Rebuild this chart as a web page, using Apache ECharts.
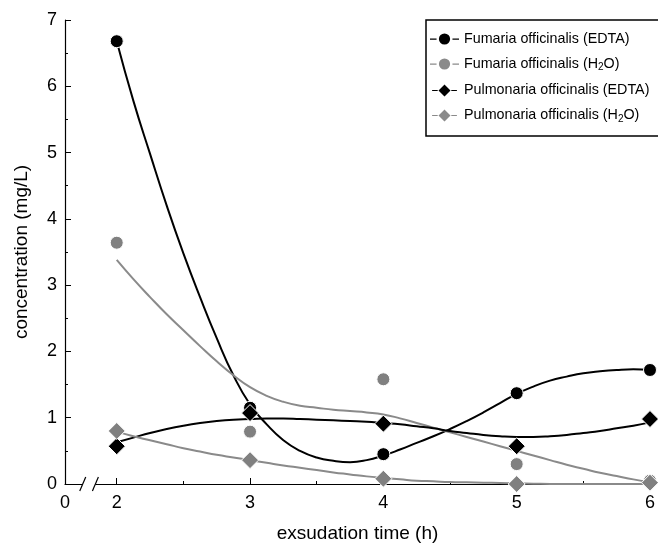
<!DOCTYPE html>
<html>
<head>
<meta charset="utf-8">
<script src="https://cdn.jsdelivr.net/npm/echarts@6/dist/echarts.min.js"></script>
<style>
  html, body { margin: 0; padding: 0; background: #fff; }
  #chart { width: 658px; height: 548px; }
</style>
</head>
<body>
<div id="chart"></div>
<script>
// measured points
var timeH = [2, 3, 4, 5, 6];
var fumEdta = [6.68, 1.15, 0.45, 1.37, 1.72];
var fumH2o = [3.64, 0.79, 1.58, 0.30, 0.05];
var pulEdta = [0.57, 1.07, 0.91, 0.57, 0.98];
var pulH2o = [0.80, 0.36, 0.08, 0.00, 0.02];

// fitted curves, every 0.125 h
var fitX = [2, 2.125, 2.25, 2.375, 2.5, 2.625, 2.75, 2.875, 3, 3.125, 3.25, 3.375, 3.5, 3.625, 3.75, 3.875,
            4, 4.125, 4.25, 4.375, 4.5, 4.625, 4.75, 4.875, 5, 5.125, 5.25, 5.375, 5.5, 5.625, 5.75, 5.875, 6];
var fumEdtaFit = [6.68, 5.78, 4.98, 4.20, 3.48, 2.82, 2.20, 1.64, 1.20, 0.90, 0.66, 0.50, 0.40, 0.35, 0.33, 0.36,
                  0.43, 0.52, 0.62, 0.72, 0.83, 0.95, 1.08, 1.22, 1.36, 1.47, 1.56, 1.62, 1.67, 1.70, 1.72, 1.73, 1.72];
var fumH2oFit = [3.38, 3.09, 2.82, 2.56, 2.32, 2.08, 1.85, 1.64, 1.46, 1.33, 1.24, 1.18, 1.15, 1.12, 1.10, 1.08,
                 1.05, 0.99, 0.92, 0.85, 0.78, 0.71, 0.64, 0.57, 0.50, 0.43, 0.36, 0.29, 0.23, 0.17, 0.12, 0.07, 0.03];
var pulEdtaFit = [0.63, 0.70, 0.77, 0.83, 0.88, 0.92, 0.95, 0.97, 0.98, 0.99, 0.99, 0.98, 0.97, 0.96, 0.95, 0.94,
                  0.92, 0.90, 0.87, 0.84, 0.80, 0.77, 0.74, 0.72, 0.71, 0.71, 0.72, 0.74, 0.77, 0.80, 0.84, 0.88, 0.93];
var pulH2oFit = [0.79, 0.72, 0.66, 0.60, 0.54, 0.49, 0.44, 0.40, 0.36, 0.32, 0.28, 0.245, 0.21, 0.175, 0.145, 0.115,
                 0.09, 0.07, 0.05, 0.04, 0.03, 0.025, 0.02, 0.015, 0.01, 0.005, 0, 0, 0, 0, 0, 0, 0];

var xLabels = [1.612, 2, 3, 4, 5, 6];   // 1.612 stands for the broken "0"
var xMajor = [2, 3, 4, 5, 6];
var xMinor = [2.5, 3.5, 4.5, 5.5];

var names = [
  "Fumaria officinalis (EDTA)",
  "Fumaria officinalis (H2O)",
  "Pulmonaria officinalis (EDTA)",
  "Pulmonaria officinalis (H2O)"
];
var BLACK = "#000000";
var GREY = "#808080";
var font = "Liberation Sans";

function pairs(xs, ys) {
  return xs.map(function (x, i) { return [x, ys[i]]; });
}

var iconCircle = "path://M0,5.4h7v1.3h-7zM24,5.4h7v1.3h-7zM15.5,0a6,6 0 1,0 0.01,0z";
var iconDiamond = "path://M0,5.4h7v1.3h-7zM24,5.4h7v1.3h-7zM15.5,-1.5L23,6L15.5,13.5L8,6z";

var chartDom = echarts.init(document.getElementById("chart"));

function fitSeries(name, color, data) {
  return {
    name: name,
    type: "line",
    smooth: true,
    showSymbol: false,
    symbol: "none",
    color: color,
    lineStyle: { width: 2, color: color },
    data: pairs(fitX, data),
    z: 2,
    silent: true
  };
}
function pointSeries(name, color, symbol, size, data) {
  return {
    name: name,
    type: "scatter",
    symbol: symbol,
    symbolSize: size,
    color: color,
    itemStyle: { color: color, opacity: 1, borderColor: "#fff", borderWidth: 1 },
    data: pairs(timeH, data),
    z: 5
  };
}

var option = {
  animation: false,
  backgroundColor: "#fff",
  textStyle: { fontFamily: font, color: "#000" },
  grid: { left: 65, right: 5, top: 20, bottom: 64 },
  legend: {
    left: 426,
    top: 20,
    orient: "vertical",
    backgroundColor: "#fff",
    borderColor: "#000",
    borderWidth: 1.5,
    borderRadius: 0,
    padding: [12, 40, 12, 4],
    itemWidth: 29,
    itemHeight: 12,
    itemGap: 11,
    data: [
      { name: names[0], icon: iconCircle },
      { name: names[1], icon: iconCircle },
      { name: names[2], icon: iconDiamond },
      { name: names[3], icon: iconDiamond }
    ],
    formatter: function (n) {
      if (n.indexOf("H2O") >= 0) {
        return "{t|" + n.replace("H2O)", "H") + "}{s|2}{t|O)}";
      }
      return "{t|" + n + "}";
    },
    textStyle: {
      fontFamily: font,
      color: "#000",
      rich: {
        t: { fontSize: 14.3, fontFamily: font, color: "#000" },
        s: { fontSize: 10, fontFamily: font, color: "#000", padding: [7, 0, 0, 0] }
      }
    }
  },
  xAxis: [
    {
      type: "value",
      min: 1.612,
      max: 6,
      name: "exsudation time (h)",
      nameLocation: "middle",
      nameGap: 40,
      nameTextStyle: { fontSize: 19, fontFamily: font, color: "#000" },
      axisLine: { show: true, onZero: false, lineStyle: { color: "#000", width: 1.2 } },
      axisTick: { show: true, inside: true, length: 6, customValues: xMajor, lineStyle: { color: "#000" } },
      axisLabel: {
        customValues: xLabels,
        fontSize: 18,
        fontFamily: font,
        color: "#000",
        margin: 10,
        formatter: function (v) { return v < 1.9 ? "0" : String(Math.round(v)); }
      },
      splitLine: { show: false }
    },
    {
      type: "value",
      min: 1.612,
      max: 6,
      position: "bottom",
      axisLine: { show: false },
      axisTick: { show: true, inside: true, length: 3, customValues: xMinor, lineStyle: { color: "#000" } },
      axisLabel: { show: false },
      splitLine: { show: false }
    }
  ],
  yAxis: {
    type: "value",
    min: 0,
    max: 7,
    interval: 1,
    name: "concentration (mg/L)",
    nameLocation: "middle",
    nameGap: 34,
    nameTextStyle: { fontSize: 19, fontFamily: font, color: "#000" },
    axisLine: { show: true, lineStyle: { color: "#000", width: 1.2 } },
    axisTick: { show: true, inside: true, length: 6, lineStyle: { color: "#000" } },
    minorTick: { show: true, splitNumber: 2, length: 3, lineStyle: { color: "#000" } },
    axisLabel: { fontSize: 18, fontFamily: font, color: "#000", margin: 8 },
    splitLine: { show: false }
  },
  series: [
    fitSeries(names[0], BLACK, fumEdtaFit),
    fitSeries(names[1], "#8a8a8a", fumH2oFit),
    fitSeries(names[2], BLACK, pulEdtaFit),
    fitSeries(names[3], "#8a8a8a", pulH2oFit),
    pointSeries(names[0], BLACK, "circle", 13, fumEdta),
    pointSeries(names[1], GREY, "circle", 13, fumH2o),
    pointSeries(names[2], BLACK, "diamond", 17, pulEdta),
    pointSeries(names[3], GREY, "diamond", 17, pulH2o)
  ]
};
chartDom.setOption(option);

// axis break marks
var y0 = chartDom.convertToPixel({ yAxisIndex: 0 }, 0);
var b1 = chartDom.convertToPixel({ xAxisIndex: 0 }, 1.745);
var b2 = chartDom.convertToPixel({ xAxisIndex: 0 }, 1.84);
chartDom.setOption({
  graphic: [
    { type: "rect", shape: { x: b1, y: y0 - 3, width: b2 - b1, height: 6 }, style: { fill: "#fff" }, z: 100 },
    { type: "line", shape: { x1: b1 - 3, y1: y0 + 7, x2: b1 + 3, y2: y0 - 7 }, style: { stroke: "#000", lineWidth: 1.2 }, z: 101 },
    { type: "line", shape: { x1: b2 - 3, y1: y0 + 7, x2: b2 + 3, y2: y0 - 7 }, style: { stroke: "#000", lineWidth: 1.2 }, z: 101 }
  ]
});
</script>
</body>
</html>
